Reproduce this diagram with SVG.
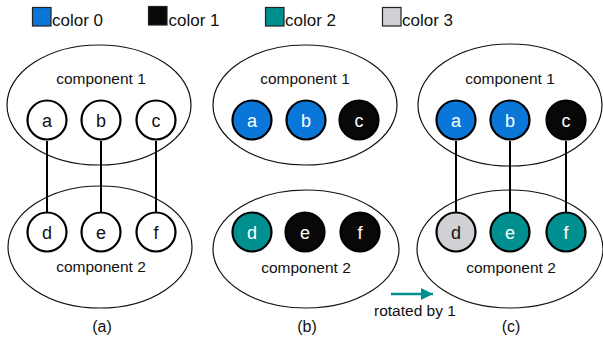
<svg xmlns="http://www.w3.org/2000/svg" width="603" height="337" viewBox="0 0 603 337">
  <style>
    text { font-family: "Liberation Sans", Arial, sans-serif; font-size: 15.5px; fill: #111; }
    .mid { text-anchor: middle; }
    .leg { font-size: 17px; }
    .cap { font-size: 16px; text-anchor: middle; }
    .lbl { font-size: 18px; text-anchor: middle; }
    .comp { fill: none; stroke: #111; stroke-width: 1.2; }
    .v { stroke: #000; stroke-width: 2.2; }
    .v0 { fill: #0a77d8; }
    .v1 { fill: #080808; }
    .v2 { fill: #008f8f; }
    .v3 { fill: #cfd1d5; }
    .vw { fill: #fff; }
    .lw { fill: #fff; }
    .lb { fill: #111; }
    .edge { stroke: #000; stroke-width: 2; fill: none; }
    .sw { stroke: #222; stroke-width: 1.2; }
  </style>
  <defs>
    <marker id="tealHead" viewBox="0 0 10 10" refX="10" refY="5" markerWidth="5" markerHeight="5" markerUnits="strokeWidth" orient="auto">
      <path d="M0,0 L10,5 L0,10 Z" fill="#008f8f"/>
    </marker>
  </defs>

  <!-- legend -->
  <g id="legend">
    <rect class="sw v0" x="32.5" y="7.5" width="18.5" height="18.5"/>
    <text class="leg" x="52" y="25.5">color 0</text>
    <rect class="sw v1" x="148.5" y="6.5" width="18.5" height="18.5"/>
    <text class="leg" x="168.5" y="25.5">color 1</text>
    <rect class="sw v2" x="265.5" y="7.5" width="18.5" height="18.5"/>
    <text class="leg" x="285" y="25.5">color 2</text>
    <rect class="sw v3" x="382.5" y="7.5" width="18.5" height="18.5"/>
    <text class="leg" x="402" y="25.5">color 3</text>
  </g>

  <!-- component outlines -->
  <g id="components">
    <ellipse id="a-comp1" class="comp" cx="99" cy="105" rx="92" ry="60"/>
    <ellipse id="a-comp2" class="comp" cx="100" cy="247" rx="92" ry="61"/>
    <ellipse id="b-comp1" class="comp" cx="305" cy="105" rx="92" ry="60"/>
    <ellipse id="b-comp2" class="comp" cx="306" cy="249" rx="93" ry="59"/>
    <ellipse id="c-comp1" class="comp" cx="510" cy="105" rx="92" ry="61"/>
    <ellipse id="c-comp2" class="comp" cx="510" cy="249" rx="93" ry="59"/>
    <text class="mid" x="101" y="84">component 1</text>
    <text class="mid" x="101" y="272">component 2</text>
    <text class="mid" x="305" y="84">component 1</text>
    <text class="mid" x="306" y="273">component 2</text>
    <text class="mid" x="510" y="84">component 1</text>
    <text class="mid" x="511" y="273">component 2</text>
  </g>

  <!-- connectors -->
  <g id="connectors">
    <line class="edge" x1="47" y1="141" x2="47" y2="212"/>
    <line class="edge" x1="101" y1="141" x2="101" y2="212"/>
    <line class="edge" x1="156" y1="141" x2="156" y2="212"/>
    <line class="edge" x1="456" y1="141" x2="456" y2="212"/>
    <line class="edge" x1="510" y1="141" x2="510" y2="212"/>
    <line class="edge" x1="566" y1="141" x2="566" y2="212"/>
    <line x1="391" y1="294" x2="433" y2="294" stroke="#008f8f" stroke-width="2.5" marker-end="url(#tealHead)"/>
  </g>

  <!-- panel (a): uncoloured graph -->
  <g id="a-a"><circle class="v vw" cx="47" cy="120" r="19.5"/><text class="lbl lb" x="47" y="126.5">a</text></g>
  <g id="a-b"><circle class="v vw" cx="101" cy="120" r="19.5"/><text class="lbl lb" x="101" y="126.5">b</text></g>
  <g id="a-c"><circle class="v vw" cx="156" cy="120" r="19.5"/><text class="lbl lb" x="156" y="126.5">c</text></g>
  <g id="a-d"><circle class="v vw" cx="47" cy="232" r="19.5"/><text class="lbl lb" x="47" y="238.5">d</text></g>
  <g id="a-e"><circle class="v vw" cx="101" cy="232" r="19.5"/><text class="lbl lb" x="101" y="238.5">e</text></g>
  <g id="a-f"><circle class="v vw" cx="156" cy="232" r="19.5"/><text class="lbl lb" x="156" y="238.5">f</text></g>

  <!-- panel (b): each component coloured separately -->
  <g id="b-a"><circle class="v v0" cx="252" cy="120" r="19.5"/><text class="lbl lw" x="252" y="126.5">a</text></g>
  <g id="b-b"><circle class="v v0" cx="306" cy="120" r="19.5"/><text class="lbl lw" x="306" y="126.5">b</text></g>
  <g id="b-c"><circle class="v v1" cx="359" cy="120" r="19.5"/><text class="lbl lw" x="359" y="126.5">c</text></g>
  <g id="b-d"><circle class="v v2" cx="252" cy="232" r="19.5"/><text class="lbl lw" x="252" y="238.5">d</text></g>
  <g id="b-e"><circle class="v v1" cx="305" cy="232" r="19.5"/><text class="lbl lw" x="305" y="238.5">e</text></g>
  <g id="b-f"><circle class="v v1" cx="360" cy="232" r="19.5"/><text class="lbl lw" x="360" y="238.5">f</text></g>

  <!-- panel (c): component 2 colours rotated by 1 -->
  <g id="c-a"><circle class="v v0" cx="456" cy="120" r="19.5"/><text class="lbl lw" x="456" y="126.5">a</text></g>
  <g id="c-b"><circle class="v v0" cx="510" cy="120" r="19.5"/><text class="lbl lw" x="510" y="126.5">b</text></g>
  <g id="c-c"><circle class="v v1" cx="566" cy="120" r="19.5"/><text class="lbl lw" x="566" y="126.5">c</text></g>
  <g id="c-d"><circle class="v v3" cx="456" cy="232" r="19.5"/><text class="lbl lb" x="456" y="238.5">d</text></g>
  <g id="c-e"><circle class="v v2" cx="510" cy="232" r="19.5"/><text class="lbl lw" x="510" y="238.5">e</text></g>
  <g id="c-f"><circle class="v v2" cx="566" cy="232" r="19.5"/><text class="lbl lw" x="566" y="238.5">f</text></g>

  <!-- captions -->
  <g id="captions">
    <text x="374" y="316">rotated by 1</text>
    <text class="cap" x="102" y="332">(a)</text>
    <text class="cap" x="307" y="332">(b)</text>
    <text class="cap" x="511" y="332">(c)</text>
  </g>
</svg>
